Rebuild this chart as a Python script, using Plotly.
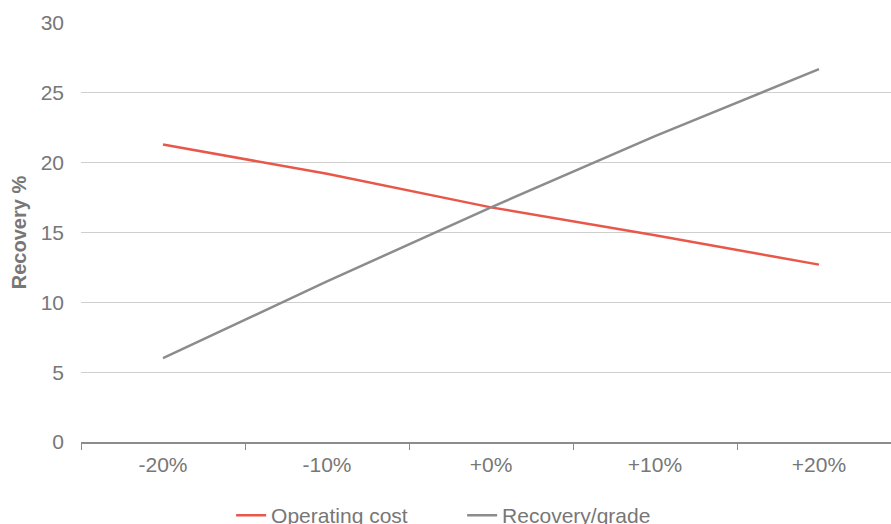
import plotly.graph_objects as go

# Sensitivity cases on the x axis
categories = ["-20%", "-10%", "+0%", "+10%", "+20%"]

# Recovery % for each varied input
operating_cost = [21.3, 19.2, 16.8, 14.8, 12.7]
recovery_grade = [6.0, 11.5, 16.8, 21.9, 26.7]

y_ticks = [0, 5, 10, 15, 20, 25, 30]

RED = "#E8584A"
GREY = "#8C8C8C"
TEXT = "#777777"
FONT = "Liberation Sans, Arial, sans-serif"

fig = go.Figure()
fig.add_trace(go.Scatter(x=categories, y=operating_cost, mode="lines",
                         name="Operating cost",
                         line=dict(color=RED, width=2.5)))
fig.add_trace(go.Scatter(x=categories, y=recovery_grade, mode="lines",
                         name="Recovery/grade",
                         line=dict(color=GREY, width=2.5)))

fig.update_layout(
    width=891, height=524,
    margin=dict(l=81, r=0, t=23, b=82),
    paper_bgcolor="white", plot_bgcolor="white",
    font=dict(family=FONT, color=TEXT, size=21),
    showlegend=True,
    legend=dict(orientation="h", x=0.4705, xanchor="center",
                xref="paper", yref="container",
                y=0.016, yanchor="middle",
                font=dict(size=21, color=TEXT),
                entrywidth=186, entrywidthmode="pixels",
                bgcolor="rgba(0,0,0,0)"),
    hovermode=False,
)

fig.update_xaxes(
    type="category",
    range=[-0.5, 4.439],
    showgrid=False,
    showline=True, linecolor=GREY, linewidth=2,
    ticks="outside", tickson="boundaries", ticklen=6, tickcolor=GREY,
    tickwidth=1,
    tickfont=dict(size=21, color=TEXT),
    ticklabelstandoff=3,
)

fig.update_yaxes(
    range=[0, 30],
    tickvals=y_ticks,
    showgrid=True, gridcolor="#CFCFCF", gridwidth=1,
    zeroline=False, showline=False,
    ticks="", tickfont=dict(size=21, color=TEXT),
    ticklabelstandoff=16,
    title=dict(text="<b>Recovery %</b>", font=dict(size=20, color=TEXT),
               standoff=8),
)

fig.write_html("out.html")
